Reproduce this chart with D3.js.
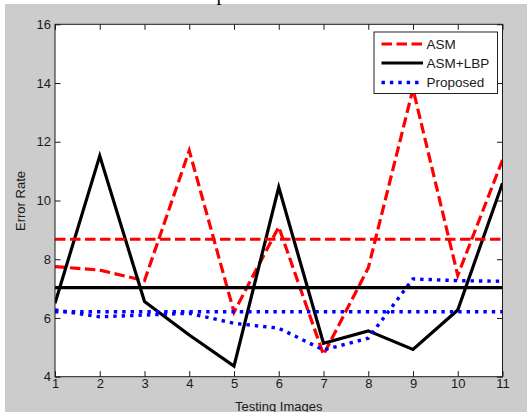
<!DOCTYPE html>
<html>
<head>
<meta charset="utf-8">
<script src="https://cdn.jsdelivr.net/npm/d3@7"></script>
<style>
  html, body { margin: 0; padding: 0; background: #fff; }
  svg { display: block; }
  text { font-family: "Liberation Sans", Arial, sans-serif; fill: #1a1a1a; }
</style>
</head>
<body>
<svg id="chart" width="527" height="412"></svg>
<script>
// ---- data ----
const testingImages = [1, 2, 3, 4, 5, 6, 7, 8, 9, 10, 11];
const asm      = [7.75, 7.63, 7.27, 11.7, 6.2, 9.1, 4.75, 7.7, 13.8, 7.45, 11.38];
const asmLbp   = [6.5, 11.52, 6.56, 5.42, 4.36, 10.45, 5.14, 5.56, 4.93, 6.27, 10.59];
const proposed = [6.27, 6.04, 6.1, 6.16, 5.82, 5.65, 4.91, 5.31, 7.33, 7.27, 7.25];
const meanValues = [8.68, 7.03, 6.21];           // ASM, ASM+LBP, Proposed averages
const seriesNames = ["ASM", "ASM+LBP", "Proposed"];
const xTicks = [1, 2, 3, 4, 5, 6, 7, 8, 9, 10, 11];
const yTicks = [4, 6, 8, 10, 12, 14, 16];

// ---- styles ----
const styles = [
  { color: "#ff0000", dash: "10.5,4.5", width: 3.2 },
  { color: "#000000", dash: null, width: 3.2 },
  { color: "#0000ff", dash: "3.4,5", width: 3.4 }
];

const svg = d3.select("#chart");
const W = 527, H = 412;
const plot = { left: 55, right: 502.5, top: 24.3, bottom: 376.7 };

// figure background
svg.append("rect").attr("x", 5).attr("y", 4).attr("width", W - 5).attr("height", H - 4)
  .attr("fill", "#cccccc");
// cut-off title fragment at the top
svg.append("text").attr("x", 216.5).attr("y", -0.5)
  .style("font-family", "'Liberation Serif', 'Times New Roman', serif")
  .style("font-size", "20px").style("fill", "#000").text("p");

const x = d3.scaleLinear().domain([1, 11]).range([plot.left, plot.right]);
const y = d3.scaleLinear().domain([4, 16]).range([plot.bottom, plot.top]);

// plot area
svg.append("rect").attr("x", plot.left).attr("y", plot.top)
  .attr("width", plot.right - plot.left).attr("height", plot.bottom - plot.top)
  .attr("fill", "#ffffff");

svg.append("clipPath").attr("id", "clip").append("rect")
  .attr("x", plot.left).attr("y", plot.top)
  .attr("width", plot.right - plot.left).attr("height", plot.bottom - plot.top);

const g = svg.append("g").attr("clip-path", "url(#clip)");
const line = d3.line().x((d, i) => x(testingImages[i])).y(d => y(d));
const allSeries = [asm, asmLbp, proposed];

allSeries.forEach((s, k) => {
  g.append("path").datum(s).attr("d", line)
    .attr("fill", "none").attr("stroke", styles[k].color)
    .attr("stroke-width", styles[k].width)
    .attr("stroke-dasharray", styles[k].dash)
    .attr("stroke-linejoin", "miter");
});
meanValues.forEach((m, k) => {
  g.append("line").attr("x1", x(1)).attr("x2", x(11))
    .attr("y1", y(m)).attr("y2", y(m))
    .attr("stroke", styles[k].color).attr("stroke-width", styles[k].width)
    .attr("stroke-dasharray", styles[k].dash);
});

// axes with inward ticks on all sides
const tickLen = 5.5;
const axisColor = "#1a1a1a";
const bottomAxis = d3.axisBottom(x).tickValues(xTicks).tickSize(-tickLen).tickPadding(9).tickFormat(d3.format("d"));
const topAxis = d3.axisTop(x).tickValues(xTicks).tickSize(-tickLen).tickFormat("");
const leftAxis = d3.axisLeft(y).tickValues(yTicks).tickSize(-tickLen).tickPadding(4).tickFormat(d3.format("d"));
const rightAxis = d3.axisRight(y).tickValues(yTicks).tickSize(-tickLen).tickFormat("");

function styleAxis(sel) {
  sel.select(".domain").remove();
  sel.selectAll(".tick line").attr("stroke", axisColor).attr("stroke-width", 1);
  sel.selectAll(".tick text").style("font-size", "13px").attr("fill", "#1a1a1a");
}
svg.append("g").attr("transform", `translate(0,${plot.bottom})`).call(bottomAxis).call(styleAxis)
  .selectAll(".tick text").attr("dy", "0.2em");
svg.append("g").attr("transform", `translate(0,${plot.top})`).call(topAxis).call(styleAxis);
svg.append("g").attr("transform", `translate(${plot.left},0)`).call(leftAxis).call(styleAxis);
svg.append("g").attr("transform", `translate(${plot.right},0)`).call(rightAxis).call(styleAxis);

// box
svg.append("rect").attr("x", plot.left).attr("y", plot.top)
  .attr("width", plot.right - plot.left).attr("height", plot.bottom - plot.top)
  .attr("fill", "none").attr("stroke", axisColor).attr("stroke-width", 1);

// axis labels
svg.append("text").attr("x", (plot.left + plot.right) / 2).attr("y", 411)
  .attr("text-anchor", "middle").style("font-size", "13px").text("Testing Images");
svg.append("text").attr("transform", "translate(24.5,201) rotate(-90)")
  .attr("text-anchor", "middle").style("font-size", "13px").text("Error Rate");

// legend
const lg = svg.append("g");
lg.append("rect").attr("x", 374).attr("y", 32).attr("width", 123.5).attr("height", 61.5)
  .attr("fill", "#ffffff").attr("stroke", "#222").attr("stroke-width", 1);
const legendY = [44, 63, 82.5];
seriesNames.forEach((name, k) => {
  lg.append("line").attr("x1", 381.5).attr("x2", 423).attr("y1", legendY[k]).attr("y2", legendY[k])
    .attr("stroke", styles[k].color).attr("stroke-width", styles[k].width)
    .attr("stroke-dasharray", styles[k].dash);
  lg.append("text").attr("x", 426.5).attr("y", legendY[k] + 4.8)
    .style("font-size", "13.5px").text(name);
});
</script>
</body>
</html>
